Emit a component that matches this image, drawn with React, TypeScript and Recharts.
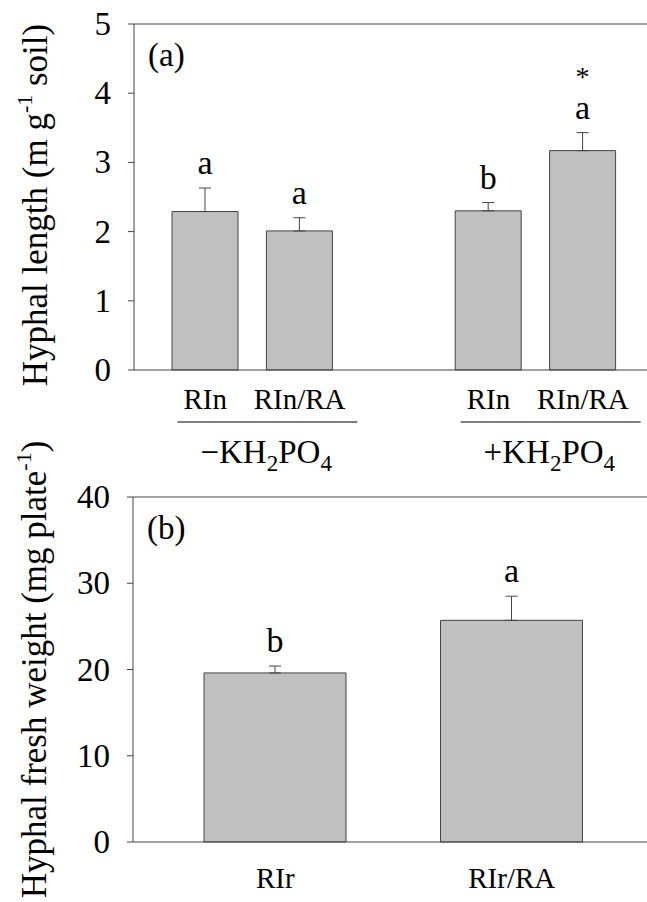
import React from 'react';
import { BarChart, Bar, XAxis, YAxis, ErrorBar, LabelList, ReferenceLine } from 'recharts';

// panel (a): hyphal length, two KH2PO4 groups with an empty slot between them
const lengthKeys = ['n1', 'n2', 'gap', 'p1', 'p2'];
const lengthTicks = ['RIn', 'RIn/RA', '', 'RIn', 'RIn/RA'];
const lengthMeans = [2.29, 2.01, null, 2.3, 3.17];
const lengthSE = [0.34, 0.19, null, 0.12, 0.26];
const lengthLetters = ['a', 'a', '', 'b', 'a'];
const lengthStars = ['', '', '', '', '*'];
const lengthYTicks = [0, 1, 2, 3, 4, 5];
const groupStarts = [0, 3]; // first slot of each KH2PO4 group
const groupSigns = ['\u2212', '+'];

// panel (b): hyphal fresh weight
const weightTicks = ['RIr', 'RIr/RA'];
const weightMeans = [19.6, 25.7];
const weightSE = [0.8, 2.8];
const weightLetters = ['b', 'a'];
const weightYTicks = [0, 10, 20, 30, 40];

const FONT = 'Liberation Serif, Times New Roman, serif';
const AXIS = '#444';
const PAD = { left: 24, right: 17 };

const lengthData = lengthKeys.map((k, i) => ({
  key: k,
  mean: lengthMeans[i],
  err: lengthSE[i] == null ? undefined : [0, lengthSE[i]],
}));

const weightData = weightTicks.map((k, i) => ({
  key: k,
  mean: weightMeans[i],
  err: [0, weightSE[i]],
}));

const letterContent = (
  keys: string[],
  means: (number | null)[],
  ses: (number | null)[],
  letters: string[],
  stars?: string[]
) => (props: any) => {
  const vb = props.viewBox || props;
  const i = keys.indexOf(props.value);
  const m = means[i];
  if (i < 0 || m == null || !letters[i]) return null;
  const h = Math.abs(vb.height);
  const top = Math.min(vb.y, vb.y + vb.height) - ((ses[i] || 0) * h) / m;
  const cx = vb.x + vb.width / 2;
  return (
    <g>
      <text x={cx} y={top - 14} textAnchor="middle" fontSize={34} fontFamily={FONT} fill="#000">
        {letters[i]}
      </text>
      {stars && stars[i] ? (
        <text x={cx} y={top - 47} textAnchor="middle" fontSize={28} fontFamily={FONT} fill="#000">
          {stars[i]}
        </text>
      ) : null}
    </g>
  );
};

const LengthTick = (props: any) => {
  const { x, y, payload } = props;
  const i = lengthKeys.indexOf(payload.value);
  const g = groupStarts.indexOf(i);
  const gx = x + (payload.offset || 0); // centre between the two bars of a group
  return (
    <g>
      {lengthTicks[i] ? (
        <text x={x} y={y + 39} textAnchor="middle" fontSize={29} fontFamily={FONT} fill="#000">
          {lengthTicks[i]}
        </text>
      ) : null}
      {g >= 0 ? (
        <g>
          <line x1={gx - 75} x2={gx + 105} y1={y + 52} y2={y + 52} stroke="#555" strokeWidth={1.5} />
          <text x={gx - 52} y={y + 93} textAnchor="start" fontSize={33} fontFamily={FONT} fill="#000">
            {groupSigns[g]}KH
            <tspan fontSize={23} dy={8}>2</tspan>
            <tspan dy={-8}>PO</tspan>
            <tspan fontSize={23} dy={8}>4</tspan>
          </text>
        </g>
      ) : null}
    </g>
  );
};

const WeightTick = (props: any) => {
  const { x, y, payload } = props;
  return (
    <text x={x} y={y + 46} textAnchor="middle" fontSize={29} fontFamily={FONT} fill="#000">
      {payload.value}
    </text>
  );
};

const YTick = (props: any) => {
  const { x, y, payload } = props;
  return (
    <text x={x} y={y + 11} textAnchor="end" fontSize={33} fontFamily={FONT} fill="#000">
      {payload.value}
    </text>
  );
};

const YTitle = (props: any) => {
  const vb = props.viewBox || {};
  const cy = vb.y + vb.height / 2 + props.shift;
  const bx = props.bx;
  return (
    <text
      x={bx}
      y={cy}
      transform={`rotate(-90 ${bx} ${cy})`}
      textAnchor="middle"
      fontSize={35}
      fontFamily={FONT}
      fill="#000"
    >
      {props.main}
      <tspan fontSize={22} dy={-15}>-1</tspan>
      <tspan dy={15}>{props.tail}</tspan>
    </text>
  );
};

const PanelTag = (text: string) => (props: any) => {
  const vb = props.viewBox || {};
  return (
    <text x={vb.x + 14} y={vb.y + 42} fontSize={33} fontFamily={FONT} fill="#000">
      {text}
    </text>
  );
};

export default function App() {
  return (
    <div style={{ position: 'absolute', left: 0, top: 0, width: 647, height: 902, background: '#fff', fontFamily: FONT }}>
      <div style={{ position: 'absolute', left: 0, top: 0 }}>
        <BarChart width={647} height={475} data={lengthData} margin={{ top: 24, right: 0, left: 0, bottom: 0 }}>
          <XAxis
            dataKey="key"
            height={105}
            padding={PAD}
            axisLine={{ stroke: AXIS }}
            tickLine={false}
            tickSize={0}
            tickMargin={0}
            interval={0}
            tick={LengthTick}
          />
          <YAxis
            width={134}
            domain={[0, 5]}
            ticks={lengthYTicks}
            interval={0}
            axisLine={{ stroke: AXIS }}
            tickLine={{ stroke: AXIS }}
            tickSize={6}
            tickMargin={17}
            tick={YTick}
            label={<YTitle bx={47} shift={8} main="Hyphal length (m g" tail=" soil)" />}
          />
          <ReferenceLine y={5} stroke={AXIS} strokeWidth={1} label={PanelTag('(a)')} />
          <Bar dataKey="mean" fill="#c0c0c0" stroke="#444" strokeWidth={1} barSize={66} isAnimationActive={false}>
            <ErrorBar dataKey="err" width={6} stroke="#444" strokeWidth={1} direction="y" />
            <LabelList
              dataKey={(d: any) => d.key}
              content={letterContent(lengthKeys, lengthMeans, lengthSE, lengthLetters, lengthStars)}
            />
          </Bar>
        </BarChart>
      </div>
      <div style={{ position: 'absolute', left: 0, top: 0 }}>
        <BarChart width={647} height={902} data={weightData} margin={{ top: 497, right: 0, left: 0, bottom: 0 }}>
          <XAxis
            dataKey="key"
            height={60}
            padding={PAD}
            axisLine={{ stroke: AXIS }}
            tickLine={false}
            tickSize={0}
            tickMargin={0}
            interval={0}
            tick={WeightTick}
          />
          <YAxis
            width={133}
            domain={[0, 40]}
            ticks={weightYTicks}
            interval={0}
            axisLine={{ stroke: AXIS }}
            tickLine={{ stroke: AXIS }}
            tickSize={6}
            tickMargin={17}
            tick={YTick}
            label={<YTitle bx={46} shift={0} main="Hyphal fresh weight (mg plate" tail=")" />}
          />
          <ReferenceLine y={40} stroke={AXIS} strokeWidth={1} label={PanelTag('(b)')} />
          <Bar dataKey="mean" fill="#c0c0c0" stroke="#444" strokeWidth={1} barSize={142} isAnimationActive={false}>
            <ErrorBar dataKey="err" width={6} stroke="#444" strokeWidth={1} direction="y" />
            <LabelList
              dataKey={(d: any) => d.key}
              content={letterContent(weightTicks, weightMeans, weightSE, weightLetters)}
            />
          </Bar>
        </BarChart>
      </div>
    </div>
  );
}
